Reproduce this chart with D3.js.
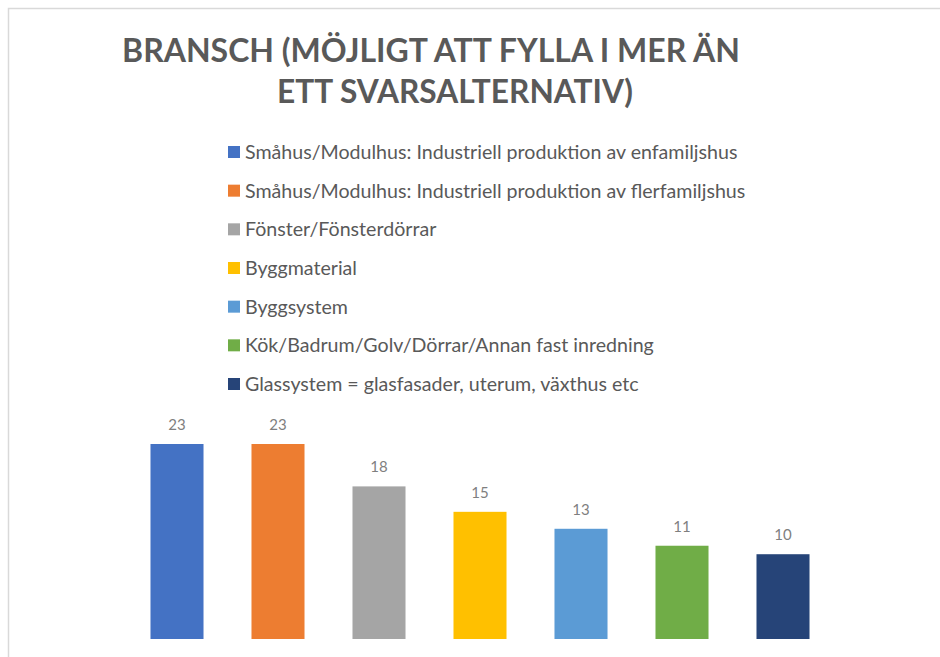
<!DOCTYPE html>
<html>
<head>
<meta charset="utf-8">
<script src="https://cdn.jsdelivr.net/npm/d3@7"></script>
<style>
  html, body { margin: 0; padding: 0; background: #fff; }
  svg { display: block; }
</style>
</head>
<body>
<div id="chart"></div>
<script>
const categories = [
  "Småhus/Modulhus: Industriell produktion av enfamiljshus",
  "Småhus/Modulhus: Industriell produktion av flerfamiljshus",
  "Fönster/Fönsterdörrar",
  "Byggmaterial",
  "Byggsystem",
  "Kök/Badrum/Golv/Dörrar/Annan fast inredning",
  "Glassystem = glasfasader, uterum, växthus etc"
];
const values = [23, 23, 18, 15, 13, 11, 10];
const colors = ["#4472C4", "#ED7D31", "#A5A5A5", "#FFC000", "#5B9BD5", "#70AD47", "#264478"];
const titleLines = ["BRANSCH (MÖJLIGT ATT FYLLA I MER ÄN", "ETT SVARSALTERNATIV)"];

const width = 940, height = 657;
const font = "Lato, 'Open Sans', sans-serif";

const svg = d3.select("#chart").append("svg")
  .attr("width", width)
  .attr("height", height);

// chart area border (runs off the right and bottom)
svg.append("rect")
  .attr("x", 8.5).attr("y", 8.5)
  .attr("width", 1200).attr("height", 1200)
  .attr("fill", "none")
  .attr("stroke", "#d9d9d9")
  .attr("stroke-width", 1.5);

// fit a text node to a width by adjusting font size
function fit(sel, target) {
  const node = sel.node();
  const fs = parseFloat(sel.attr("font-size"));
  const w = node.getComputedTextLength();
  sel.attr("font-size", (fs * target / w).toFixed(2));
}

// title
const titleSpec = [
  { x: 431, y: 62, w: 618 },
  { x: 455, y: 103, w: 356 }
];
titleLines.forEach((t, i) => {
  const s = svg.append("text")
    .attr("x", titleSpec[i].x)
    .attr("y", titleSpec[i].y)
    .attr("text-anchor", "middle")
    .attr("font-family", font)
    .attr("font-weight", "bold")
    .attr("font-size", 32)
    .attr("fill", "#595959")
    .text(t);
  fit(s, titleSpec[i].w);
});

// legend
const legendY = d3.scalePoint()
  .domain(categories)
  .range([152, 384]);

const legend = svg.append("g").attr("class", "legend");
const items = legend.selectAll("g")
  .data(categories)
  .enter().append("g")
  .attr("transform", d => "translate(228," + legendY(d) + ")");

items.append("rect")
  .attr("x", 0).attr("y", -6)
  .attr("width", 12).attr("height", 12)
  .attr("fill", (d, i) => colors[i]);

const legendText = items.append("text")
  .attr("x", 17)
  .attr("dy", "0.36em")
  .attr("font-family", font)
  .attr("font-size", 17)
  .attr("fill", "#595959")
  .text(d => d);

// scale legend font so first entry matches reference width
const lw = legendText.nodes()[0].getComputedTextLength();
legendText.attr("font-size", (17 * 493 / lw).toFixed(2));

// bars
const xScale = d3.scaleBand()
  .domain(categories)
  .range([126.5, 833.5])
  .paddingInner(0.475)
  .paddingOuter(0.2375);

const yScale = d3.scaleLinear()
  .domain([0, 23])
  .range([639, 444]);

const bars = svg.append("g").attr("class", "bars");
bars.selectAll("rect")
  .data(values)
  .enter().append("rect")
  .attr("x", (d, i) => xScale(categories[i]))
  .attr("y", d => yScale(d))
  .attr("width", xScale.bandwidth())
  .attr("height", d => yScale(0) - yScale(d))
  .attr("fill", (d, i) => colors[i]);

bars.selectAll("text")
  .data(values)
  .enter().append("text")
  .attr("x", (d, i) => xScale(categories[i]) + xScale.bandwidth() / 2)
  .attr("y", d => yScale(d) - 14)
  .attr("text-anchor", "middle")
  .attr("font-family", font)
  .attr("font-size", 15)
  .attr("fill", "#7f7f7f")
  .text(d => d);
</script>
</body>
</html>
